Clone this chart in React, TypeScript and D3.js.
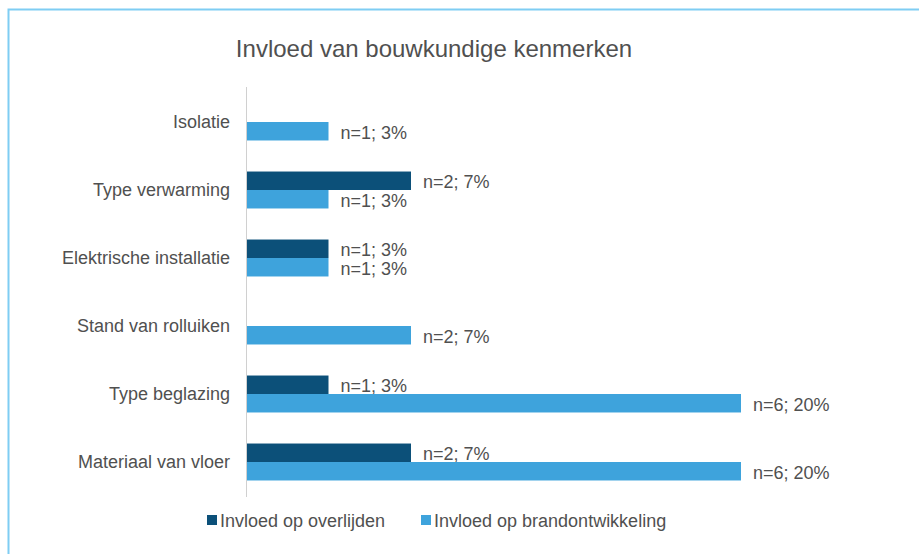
import * as React from 'react';
import * as d3 from 'd3';

const categories = [
  'Isolatie',
  'Type verwarming',
  'Elektrische installatie',
  'Stand van rolluiken',
  'Type beglazing',
  'Materiaal van vloer',
];
const seriesNames = ['Invloed op overlijden', 'Invloed op brandontwikkeling'];
const overlijden = [0, 2, 1, 0, 1, 2];
const brandontwikkeling = [1, 1, 1, 2, 6, 6];
const pctOverlijden = [0, 7, 3, 0, 3, 7];
const pctBrand = [3, 3, 3, 7, 20, 20];

const colors = ['#0c5079', '#3ea3dc'];
const textColor = '#505050';
const font = 'Arial, "Liberation Sans", sans-serif';

export default function App() {
  const width = 919;
  const height = 554;
  const left = 246;

  const x = d3.scaleLinear().domain([0, 6]).range([left, left + 495]);
  const y = d3.scaleBand<string>().domain(categories).range([88, 496]).padding(0);
  const y1 = d3.scaleBand<number>().domain([0, 1]).range([0, y.bandwidth()]).paddingInner(0).paddingOuter(0.84);

  const values = [overlijden, brandontwikkeling];
  const pcts = [pctOverlijden, pctBrand];
  const fs = 18;
  const legendX = [207, 421];

  return (
    <div style={{ position: 'fixed', left: 0, top: 0 }}>
      <svg width={width} height={height} style={{ display: 'block', background: '#fff' }}>
        <rect x={8.5} y={9.5} width={width} height={height} fill="none" stroke="#7fcdf3" strokeWidth={2} />
        <text x={434} y={57} textAnchor="middle" fontFamily={font} fontSize={24} fill={textColor}>
          Invloed van bouwkundige kenmerken
        </text>
        {categories.map((c, i) => (
          <g key={c}>
            <text x={230} y={(y(c) ?? 0) + y.bandwidth() / 2} dy="0.35em" textAnchor="end"
              fontFamily={font} fontSize={fs} fill={textColor}>{c}</text>
            {values.map((vals, s) => {
              if (vals[i] === 0) return null;
              const by = (y(c) ?? 0) + (y1(s) ?? 0);
              const bh = y1.bandwidth();
              return (
                <g key={s}>
                  <rect x={x(0)} y={by} width={x(vals[i]) - x(0)} height={bh} fill={colors[s]} />
                  <text x={x(vals[i]) + 12} y={by + bh / 2 + 1} dy="0.35em" fontFamily={font}
                    fontSize={fs} fill={textColor}>{`n=${vals[i]}; ${pcts[s][i]}%`}</text>
                </g>
              );
            })}
          </g>
        ))}
        <line x1={left + 0.5} x2={left + 0.5} y1={87} y2={497} stroke="#d0d0d0" strokeWidth={1} />
        {seriesNames.map((n, s) => (
          <g key={n}>
            <rect x={legendX[s]} y={515} width={10} height={10} fill={colors[s]} />
            <text x={legendX[s] + 13} y={521} dy="0.35em" fontFamily={font} fontSize={fs} fill={textColor}>{n}</text>
          </g>
        ))}
      </svg>
    </div>
  );
}
